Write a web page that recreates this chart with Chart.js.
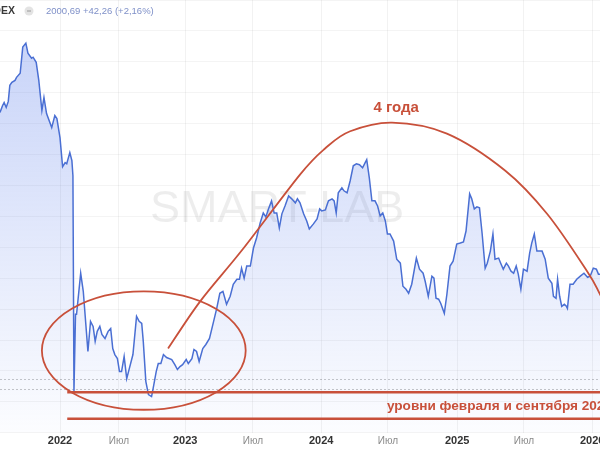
<!DOCTYPE html>
<html><head><meta charset="utf-8">
<script src="https://cdn.jsdelivr.net/npm/chart.js@4.4.1/dist/chart.umd.min.js"></script>
<style>
html,body{margin:0;padding:0;background:#fff;overflow:hidden;width:600px;height:450px;}
#wrap{position:absolute;left:-60px;top:0;width:720px;height:450px;}
</style></head><body>
<div id="wrap"><canvas id="c"></canvas></div>
<script>
// ---- data (x = trading-day number from the left edge, y = index level) ----
const tradingDay = [0,5,8,12,16,19,23,29,32,39,44,50,54,61,64,70,75,81,85,90,100,106,110,116,121,126,129,135,139,141,143,146,148,156,161,170,175,180,184,188,193,197,203,209,214,218,222,227,231,235,240,245,250,257,264,269,274,277,282,287,293,296,302,306,311,316,322,332,338,343,348,353,360,364,371,375,380,385,392,398,405,413,419,425,431,438,445,451,458,463,467,472,477,484,490,496,503,509,514,519,525,530,535,540,545,551,558,564,571,575,580,587,593,598,606,613,618,622,629,635,642,646,650,654,661,665,671,677,683,689,695,701,706,709,714,719,725,730,735,740,745,749,754,761,767,774,779,785,790,796,805,811,818,822,828,835,839,843,848,852,859,864,870,876,883,890,896,901,908,912,917,922,927,932,938,942,948,953,957,964,968,973,979,983,988,993,998,1002,1007,1012,1019,1024,1028,1033,1038,1048,1054,1060,1067,1070,1075,1078,1082,1086,1091,1095,1097,1102,1108,1115,1122,1129,1136,1141,1147,1153,1157,1160];
const closeValue = [3801,3847,3866,3834,3873,3977,3996,4009,4029,4055,4224,4250,4185,4152,4159,4126,4009,3814,3899,3795,3704,3782,3762,3639,3451,3477,3470,3542,3490,3392,1996,2496,2496,2762,2645,2256,2451,2418,2321,2386,2418,2366,2340,2386,2405,2275,2236,2210,2126,2126,2223,2080,2145,2236,2483,2451,2438,2321,2061,1977,1964,2016,2126,2178,2178,2236,2217,2204,2171,2139,2158,2171,2204,2178,2210,2269,2256,2191,2275,2301,2340,2451,2535,2632,2645,2561,2613,2691,2723,2723,2795,2730,2808,2808,2925,2990,3087,3152,3126,3178,3230,3152,3152,3055,3146,3197,3262,3243,3217,3243,3217,3146,3100,3048,3081,3113,3178,3165,3171,3230,3243,3230,3152,3282,3314,3295,3282,3360,3457,3470,3464,3444,3477,3496,3379,3230,3230,3197,3133,3152,3100,3016,3016,2970,2853,2827,2678,2658,2632,2691,2860,2788,2762,2710,2613,2743,2730,2600,2594,2568,2503,2626,2808,2840,2951,2957,2964,3035,3275,3243,3178,3191,3185,3022,2795,2827,2905,3016,2853,2860,2827,2788,2827,2808,2775,2762,2808,2756,2658,2788,2775,2892,2957,3016,2905,2905,2853,2730,2697,2613,2600,2723,2613,2548,2561,2548,2535,2691,2691,2723,2743,2762,2736,2743,2795,2788,2756,2756];
const tickDays   = [116,230,358,489,621,750,884,1013,1145];
const tickLabels = ['2022','Июл','2023','Июл','2024','Июл','2025','Июл','2026'];

// ---- annotations (in data units) ----
const headerTicker = 'IMOEX';
const headerQuote  = '2000,69 +42,26 (+2,16%)';
const watermark = 'SMART-LAB';
const watermarkAt = {day: 290, value: 3171};
const dottedLevels = [2080, 2016];
const redLevels = [1992, 1821];
const redLevelStartDay = 130;
const ellipseAnn = {day: 278, value: 2262, dDays: 197, dValue: 383};
const arcDays   = [325, 387, 470, 580, 629, 677, 758, 864, 977, 1058, 1135, 1160, 1189];
const arcValues = [2275, 2580, 2920, 3400, 3570, 3680, 3736, 3665, 3425, 3145, 2775, 2626, 2438];
const arcLabel = '4 года';
const arcLabelAt = {day: 766, value: 3834};
const levelsLabel = 'уровни февраля и сентября 2022';
const levelsLabelAt = {day: 748, value: 1899};

const RED = '#c8503a';
const FONT = '"Liberation Sans", Arial, sans-serif';

const annot = {
  id: 'annot',
  beforeDatasetsDraw(chart) {
    const {ctx, chartArea: a, scales: {x, y}} = chart;
    ctx.save();
    ctx.font = '45px ' + FONT;
    ctx.fillStyle = 'rgba(0,0,0,0.07)';
    ctx.textBaseline = 'middle';
    ctx.textAlign = 'left';
    ctx.fillText(watermark, x.getPixelForValue(watermarkAt.day), y.getPixelForValue(watermarkAt.value));
    ctx.setLineDash([2, 2]);
    ctx.strokeStyle = 'rgba(0,0,0,0.22)';
    ctx.lineWidth = 1;
    dottedLevels.forEach(v => {
      const py = Math.round(y.getPixelForValue(v)) + 0.5;
      ctx.beginPath(); ctx.moveTo(a.left, py); ctx.lineTo(a.right, py); ctx.stroke();
    });
    ctx.restore();
  },
  afterDatasetsDraw(chart) {
    const {ctx, chartArea: a, scales: {x, y}} = chart;
    ctx.save();
    ctx.strokeStyle = RED;
    ctx.lineWidth = 2.6;
    redLevels.forEach(v => {
      const py = y.getPixelForValue(v);
      ctx.beginPath(); ctx.moveTo(x.getPixelForValue(redLevelStartDay), py); ctx.lineTo(a.right + 40, py); ctx.stroke();
    });
    ctx.lineWidth = 1.8;
    const cx = x.getPixelForValue(ellipseAnn.day), cy = y.getPixelForValue(ellipseAnn.value);
    const rx = x.getPixelForValue(ellipseAnn.day + ellipseAnn.dDays) - cx;
    const ry = cy - y.getPixelForValue(ellipseAnn.value + ellipseAnn.dValue);
    ctx.beginPath(); ctx.ellipse(cx, cy, rx, ry, 0, 0, Math.PI * 2); ctx.stroke();
    // smooth arc (Catmull-Rom through the read points)
    const P = arcDays.map((d, i) => [x.getPixelForValue(d), y.getPixelForValue(arcValues[i])]);
    ctx.beginPath(); ctx.moveTo(P[0][0], P[0][1]);
    for (let i = 0; i < P.length - 1; i++) {
      const p0 = P[Math.max(i - 1, 0)], p1 = P[i], p2 = P[i + 1], p3 = P[Math.min(i + 2, P.length - 1)];
      ctx.bezierCurveTo(p1[0] + (p2[0] - p0[0]) / 6, p1[1] + (p2[1] - p0[1]) / 6,
                        p2[0] - (p3[0] - p1[0]) / 6, p2[1] - (p3[1] - p1[1]) / 6, p2[0], p2[1]);
    }
    ctx.stroke();
    ctx.fillStyle = RED;
    ctx.textBaseline = 'middle';
    ctx.font = 'bold 15px ' + FONT;
    ctx.textAlign = 'center';
    ctx.fillText(arcLabel, x.getPixelForValue(arcLabelAt.day), y.getPixelForValue(arcLabelAt.value));
    ctx.font = 'bold 13.6px ' + FONT;
    ctx.textAlign = 'left';
    ctx.fillText(levelsLabel, x.getPixelForValue(levelsLabelAt.day), y.getPixelForValue(levelsLabelAt.value));
    ctx.restore();
  },
  afterDraw(chart) {
    const {ctx, chartArea: a} = chart;
    const ox = a.left;
    ctx.save();
    ctx.textBaseline = 'middle';
    ctx.font = 'bold 10.5px ' + FONT;
    ctx.fillStyle = '#3a3a3a';
    ctx.textAlign = 'right';
    ctx.fillText(headerTicker, ox + 15, 11);
    ctx.beginPath(); ctx.arc(ox + 29, 11, 4.5, 0, Math.PI * 2);
    ctx.fillStyle = '#e3e3e3'; ctx.fill();
    ctx.strokeStyle = '#9a9a9a'; ctx.lineWidth = 1;
    ctx.beginPath(); ctx.moveTo(ox + 27, 11); ctx.lineTo(ox + 31, 11); ctx.stroke();
    ctx.textAlign = 'left';
    ctx.font = '9.5px ' + FONT;
    ctx.fillStyle = '#7f90c8';
    ctx.fillText(headerQuote, ox + 46, 11);
    ctx.restore();
  }
};

new Chart(document.getElementById('c'), {
  type: 'line',
  data: {
    datasets: [{
      data: tradingDay.map((d, i) => ({x: d, y: closeValue[i]})),
      borderColor: '#4a6fd3',
      borderWidth: 1.5,
      pointRadius: 0,
      tension: 0,
      fill: 'start',
      backgroundColor: (c) => {
        const {chart} = c; const a = chart.chartArea;
        if (!a) return 'rgba(90,125,235,0.15)';
        const g = chart.ctx.createLinearGradient(0, a.top, 0, a.bottom);
        g.addColorStop(0, 'rgba(90,125,235,0.36)');
        g.addColorStop(1, 'rgba(90,125,235,0.02)');
        return g;
      }
    }]
  },
  options: {
    animation: false,
    responsive: true,
    maintainAspectRatio: false,
    layout: {padding: {left: 60, right: 60, top: 0, bottom: 0}},
    plugins: {legend: {display: false}, tooltip: {enabled: false}},
    scales: {
      x: {
        type: 'linear', min: 0, max: 1160,
        afterBuildTicks: (s) => { s.ticks = tickDays.map(v => ({value: v})); },
        grid: {color: 'rgba(0,0,0,0.05)', drawTicks: false},
        border: {display: false},
        ticks: {
          autoSkip: false, maxRotation: 0, minRotation: 0, padding: 2,
          callback: (v) => tickLabels[tickDays.indexOf(v)] ?? '',
          font: (c) => (tickLabels[c.index] === 'Июл') ? {family: FONT, size: 10} : {family: FONT, size: 11, weight: 'bold'},
          color: (c) => (tickLabels[c.index] === 'Июл') ? '#8a8a8a' : '#333333'
        }
      },
      y: {
        type: 'linear', min: 1730, max: 4529,
        grid: {color: 'rgba(0,0,0,0.045)', drawTicks: false},
        border: {display: false},
        ticks: {display: false, stepSize: 200, includeBounds: false}
      }
    }
  },
  plugins: [annot]
});
</script>
</body></html>
